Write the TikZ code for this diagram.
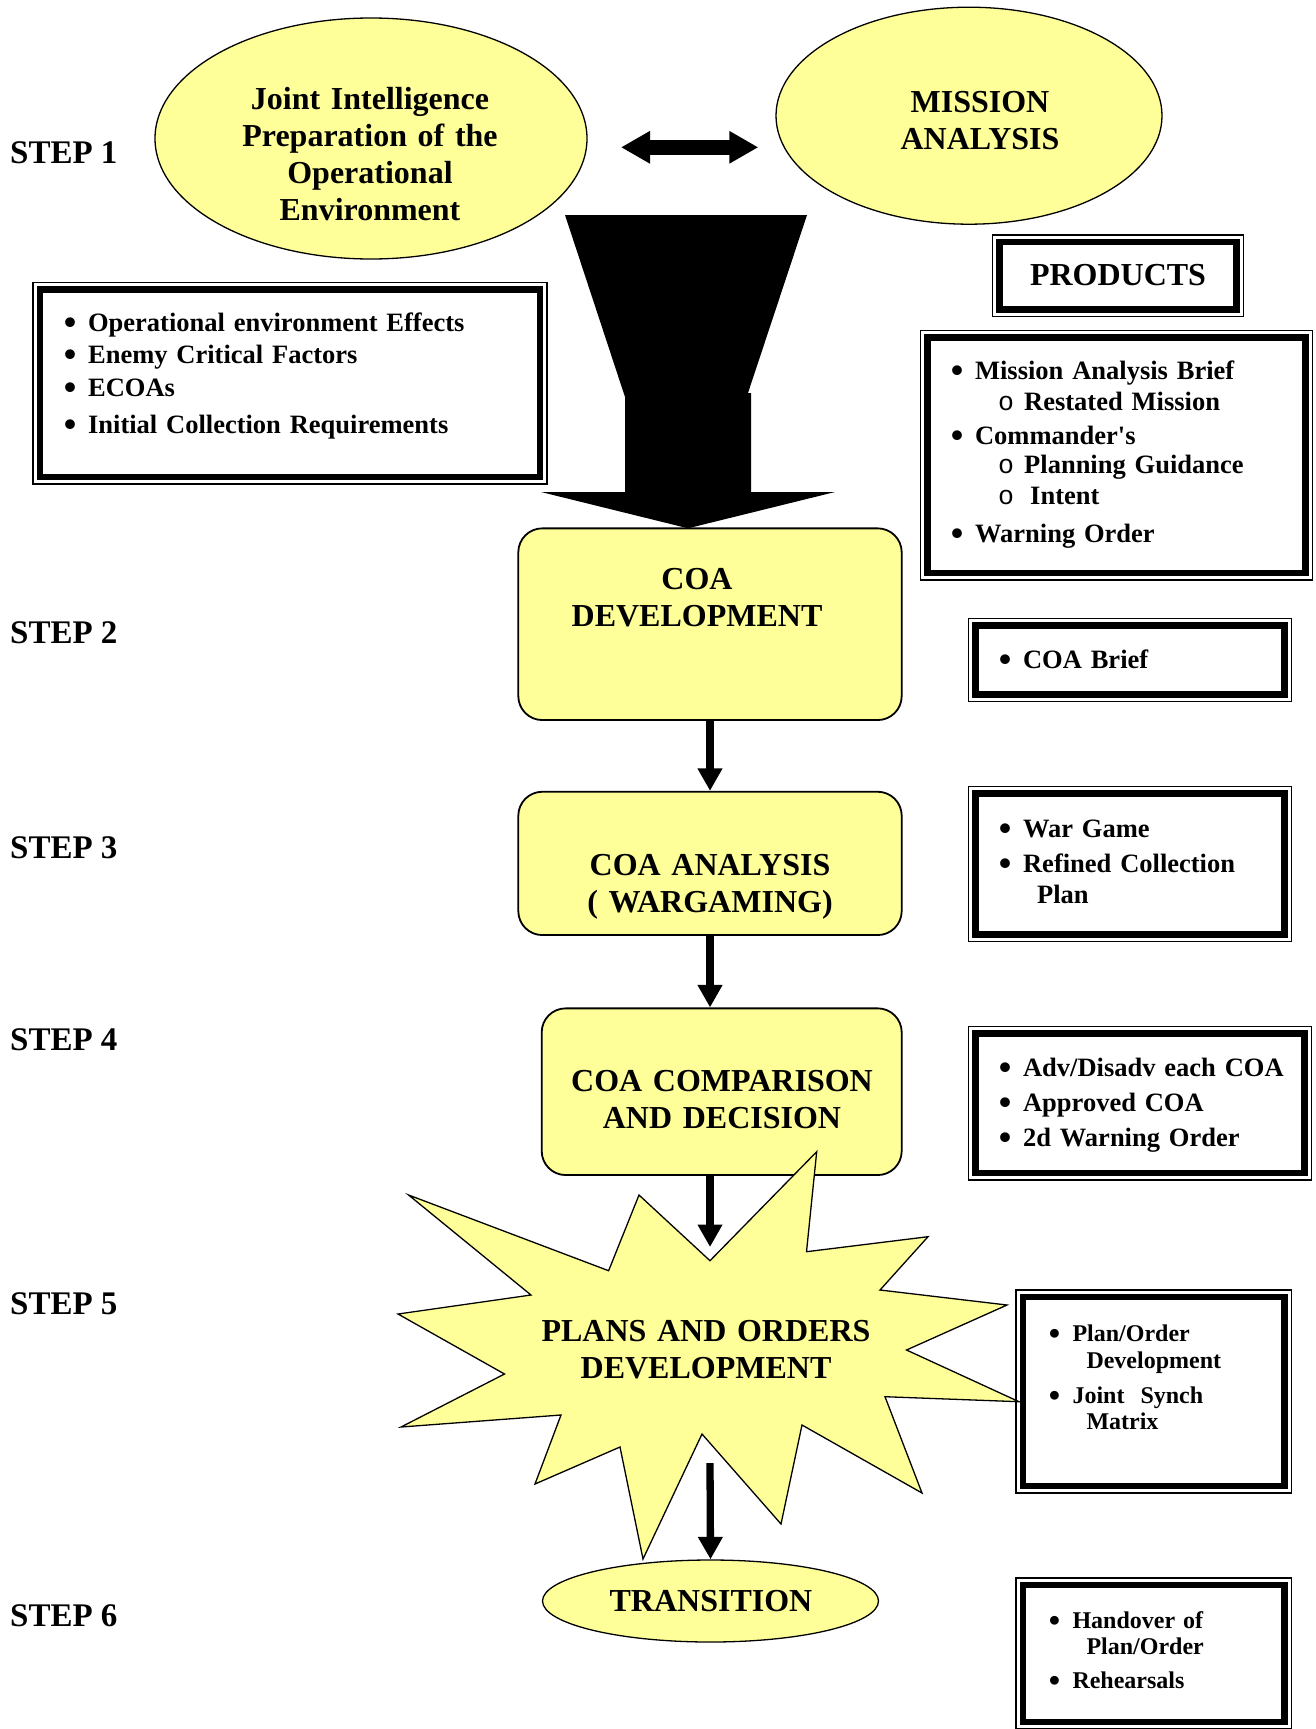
\documentclass[tikz,border=0pt]{standalone}
\usepackage{fontspec}
\usepackage{graphicx}
\setmainfont{Liberation Serif}
\newfontfamily\monofont{Liberation Mono}
\usetikzlibrary{shapes.geometric,arrows.meta}
\definecolor{paleyellow}{HTML}{FFFF99}
\newcommand{\steptxt}{\fontsize{33}{38}\selectfont\bfseries}
\newcommand{\shapetxt}{\fontsize{32}{37}\selectfont\bfseries}
\newcommand{\listtxt}{\fontsize{26.5}{31.5}\selectfont\bfseries}
\newcommand{\smalllisttxt}{\fontsize{24}{26.5}\selectfont\bfseries}
\newcommand{\bul}{\makebox[9.2pt][c]{\raisebox{-3pt}[0pt][0pt]{\scalebox{1.35}{•}}}\hspace*{13.3pt}}
\newcommand{\subbul}{\hspace*{45.6pt}\makebox[26pt][l]{\monofont\mdseries o}}
\newcommand{\contline}{\hspace*{36.5pt}}

\begin{document}
\begin{tikzpicture}[x=1pt, y=-1pt,
  oval/.style={draw, ellipse, fill=paleyellow, line width=1.3pt, inner sep=0pt},
  stagebox/.style={draw, rounded corners=24pt, fill=paleyellow, line width=1.8pt, inner sep=0pt},
  prodframe/.style={draw, line width=6.7pt, fill=white, inner sep=0pt, outer sep=0pt,
    preaction={draw, line width=15.3pt}, preaction={draw=white, line width=12.7pt}},
  title/.style={align=center, text width=400pt, inner sep=0pt, anchor=base, font=\shapetxt},
  items/.style={align=left, text width=440pt, inner sep=0pt, anchor=base west, font=\listtxt},
  smallitems/.style={align=left, text width=260pt, inner sep=0pt, anchor=base west, font=\smalllisttxt},
  steplabel/.style={anchor=base west, inner sep=0pt, font=\steptxt},
  flow/.style={line width=7.3pt, -{Triangle[width=23.5pt, length=22.5pt]}},
]
\useasboundingbox (0,0) rectangle (1315,1729);

% step labels
\node[steplabel] (step1) at (10,163.3) {STEP 1};
\node[steplabel] (step2) at (10,643) {STEP 2};
\node[steplabel] (step3) at (10,858) {STEP 3};
\node[steplabel] (step4) at (10,1050) {STEP 4};
\node[steplabel] (step5) at (10,1314) {STEP 5};
\node[steplabel] (step6) at (10,1626) {STEP 6};

% step 1
\node[oval, minimum width=432pt, minimum height=241pt] (jipoe) at (371,138.5) {};
\node[title] (jipoetxt) at (370,109) {Joint Intelligence\\Preparation of the\\Operational\\Environment};
\node[oval, minimum width=386pt, minimum height=217pt] (mission) at (969,115.7) {};
\node[title] (missiontxt) at (980,112.5) {MISSION\\ANALYSIS};
\coordinate (dblleft) at (621,147.3);
\coordinate (dblright) at (758.3,147.3);
\draw[line width=15.5pt, {Triangle[width=30.6pt,length=29pt]}-{Triangle[width=30.6pt,length=29pt]}] (dblleft) -- (dblright);

% funnel into COA development
\fill (565,215) -- (807,215) -- (748,393) -- (751,393) -- (751,492) -- (835,492)
  -- (688,528.3) -- (541,492) -- (625,492) -- (625,397) -- cycle;

% products
\node[prodframe, minimum width=500pt, minimum height=187.3pt] (jipoeout) at (290,383.3) {};
\node[items, font=\fontsize{26.5}{32.5}\selectfont\bfseries] (jipoeouttxt) at (65.4,331) {\bul Operational environment Effects\\
\bul Enemy Critical Factors\\
\bul ECOAs\\[4.5pt]
\bul Initial Collection Requirements};
\node[prodframe, minimum width=236.6pt, minimum height=67.7pt] (products) at (1118,275.8) {};
\node[title] (productstxt) at (1118,285) {PRODUCTS};
\node[prodframe, minimum width=377.8pt, minimum height=235.3pt] (maout) at (1116.6,455.4) {};
\node[items] (maouttxt) at (952.4,379) {\bul Mission Analysis Brief\\
\subbul Restated Mission\\[2pt]
\bul Commander\textquotesingle s\\[-2.5pt]
\subbul Planning Guidance\\
\hspace*{45.6pt}\makebox[32pt][l]{\monofont\mdseries o}Intent\\[6pt]
\bul Warning Order};
\node[prodframe, minimum width=309.4pt, minimum height=69pt] (coabrief) at (1130,659.9) {};
\node[items] (coabrieftxt) at (1000.4,668.9) {\bul COA Brief};
\node[prodframe, minimum width=309.4pt, minimum height=141pt] (wargame) at (1130,863.9) {};
\node[items] (wargametxt) at (1000.4,837.3) {\bul War Game\\[3.5pt]
\bul Refined Collection\\
\contline Plan};
\node[prodframe, minimum width=329.4pt, minimum height=139.1pt] (advcoa) at (1140,1103.3) {};
\node[items] (advcoatxt) at (1000.4,1076.5) {\bul Adv/Disadv each COA\\[3.5pt]
\bul Approved COA\\[3.5pt]
\bul 2d Warning Order};
\node[prodframe, minimum width=261.7pt, minimum height=189pt] (planorder) at (1153.9,1391.5) {};
\node[smallitems] (planordertxt) at (1049.8,1341.7) {\bul Plan/Order\\
\contline Development\\[8.5pt]
\bul Joint\ \ Synch\\
\contline Matrix};
\node[prodframe, minimum width=261.7pt, minimum height=137pt] (handover) at (1153.9,1653.5) {};
\node[smallitems] (handovertxt) at (1049.8,1628) {\bul Handover of\\
\contline Plan/Order\\[7pt]
\bul Rehearsals};

% steps 2 to 4
\node[stagebox, minimum width=383.4pt, minimum height=191.7pt] (coadev) at (710,624.2) {};
\node[title] (coadevtxt) at (697,589.3) {COA\\DEVELOPMENT};
\node[stagebox, minimum width=383.4pt, minimum height=143.3pt] (coaana) at (710,863.4) {};
\node[title] (coaanatxt) at (710,875) {COA ANALYSIS\\( WARGAMING)};
\node[stagebox, minimum width=360pt, minimum height=166.7pt] (coacomp) at (721.7,1091.7) {};
\node[title] (coacomptxt) at (722,1091.7) {COA COMPARISON\\AND DECISION};
\draw[flow] (coadev) -- (coaana);
\draw[flow] (coaana.south) -- (coaana.south |- coacomp.north);

% step 5
\draw[fill=paleyellow, line width=1.3pt] (816.7,1151.7) -- (806.5,1251.7) -- (928,1236.7)
  -- (880,1290) -- (1007,1305) -- (906.5,1350) -- (1019,1401.7) -- (885,1396.7)
  -- (922,1493) -- (802,1425) -- (781,1524) -- (702,1434) -- (643,1559) -- (620,1447)
  -- (535,1484) -- (561,1415) -- (401,1427) -- (504.5,1374) -- (398,1314) -- (531,1295)
  -- (408.6,1195) -- (608.6,1270.7) -- (639,1195) -- (710,1260.7) -- cycle;
\node[title] (planstxt) at (706,1341.7) {PLANS AND ORDERS\\DEVELOPMENT};
\coordinate (starin) at (710,1247);
\coordinate (starout) at (710,1463);
\draw[flow] (coaana.south |- coacomp.south) -- (starin);

% step 6
\node[oval, minimum width=336pt, minimum height=82pt] (transition) at (710.5,1601) {};
\node[title] (transitiontxt) at (711,1611.5) {TRANSITION};
\draw[flow] (starout) -- (transition.north);
\end{tikzpicture}
\end{document}
